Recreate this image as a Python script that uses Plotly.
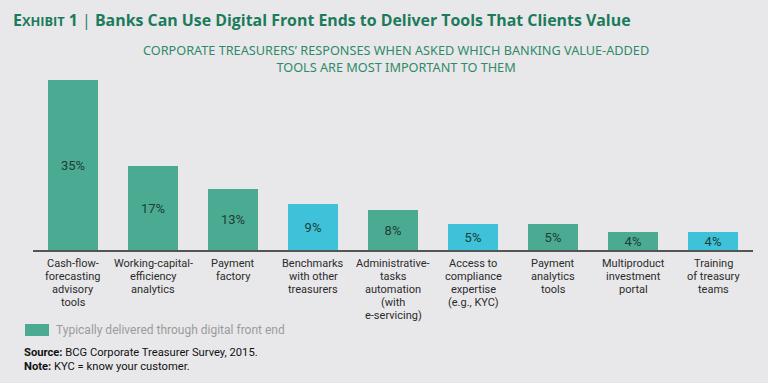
import plotly.graph_objects as go

categories = [
    "Cash-flow-<br>forecasting<br>advisory<br>tools",
    "Working-capital-<br>efficiency<br>analytics",
    "Payment<br>factory",
    "Benchmarks<br>with other<br>treasurers",
    "Administrative-<br>tasks<br>automation<br>(with<br>e-servicing)",
    "Access to<br>compliance<br>expertise<br>(e.g., KYC)",
    "Payment<br>analytics<br>tools",
    "Multiproduct<br>investment<br>portal",
    "Training<br>of treasury<br>teams",
]
values = [35, 17.3, 12.6, 9.4, 8.2, 5.3, 5.3, 3.8, 3.8]
value_labels = ["35%", "17%", "13%", "9%", "8%", "5%", "5%", "4%", "4%"]
digital_front_end = [True, True, True, False, True, False, True, True, False]

GREEN = "#4bab92"
CYAN = "#3dc2d9"
BG = "#e8e8ea"
TITLE_GREEN = "#1b7b5b"
FONT = "Roboto, 'Noto Sans', sans-serif"

colors = [GREEN if d else CYAN for d in digital_front_end]
xs = list(range(len(categories)))

fig = go.Figure()
fig.add_trace(go.Bar(
    x=xs, y=values, width=0.625,
    marker=dict(color=colors, line=dict(width=0)),
    text=value_labels, textposition="inside", insidetextanchor="middle",
    textangle=0, constraintext="none",
    textfont=dict(family=FONT, size=13, color="#1f3d36"),
    hoverinfo="skip", showlegend=False,
))

L, R, T, B = 33, 15, 80, 133
W, H = 768, 383
PW, PH = W - L - R, H - T - B


def px_x(p):
    return (p - L) / PW


def px_y(p):
    return (H - B - p) / PH


annotations = []
# category labels, one annotation per line for tight line spacing
for i, cat in enumerate(categories):
    for j, line in enumerate(cat.split("<br>")):
        annotations.append(dict(
            x=i, y=0, xref="x", yref="paper", text=line, showarrow=False,
            xanchor="center", yanchor="middle", yshift=-(13 + 13 * j),
            font=dict(family=FONT, size=11, color="#2b2b2b"),
        ))

# subtitle
annotations.append(dict(
    x=px_x(396), y=px_y(58), xref="paper", yref="paper",
    text="CORPORATE TREASURERS’ RESPONSES WHEN ASKED WHICH BANKING VALUE-ADDED<br>"
         "TOOLS ARE MOST IMPORTANT TO THEM",
    showarrow=False, xanchor="center", yanchor="middle",
    font=dict(family="'Noto Sans', Roboto, sans-serif", size=12.7, color="#2e8a69"),
))

# legend text
annotations.append(dict(
    x=px_x(54), y=px_y(330), xref="paper", yref="paper",
    text="Typically delivered through digital front end",
    showarrow=False, xanchor="left", yanchor="middle",
    font=dict(family=FONT, size=12, color="#9b9b9b"),
))
# source / note
annotations.append(dict(
    x=px_x(22), y=px_y(352), xref="paper", yref="paper",
    text="<b>Source:</b> BCG Corporate Treasurer Survey, 2015.",
    showarrow=False, xanchor="left", yanchor="middle",
    font=dict(family=FONT, size=11.2, color="#111111"),
))
annotations.append(dict(
    x=px_x(22), y=px_y(366), xref="paper", yref="paper",
    text="<b>Note:</b> KYC = know your customer.",
    showarrow=False, xanchor="left", yanchor="middle",
    font=dict(family=FONT, size=11.2, color="#111111"),
))

shapes = [dict(type="rect", xref="paper", yref="paper",
               x0=px_x(25), x1=px_x(49), y0=px_y(336), y1=px_y(324),
               fillcolor=GREEN, line=dict(width=0))]

fig.update_layout(
    width=W, height=H,
    margin=dict(l=L, r=R, t=T, b=B),
    paper_bgcolor=BG, plot_bgcolor=BG,
    title=dict(
        text=("<b>E<span style='font-size:12.8px'>XHIBIT</span> 1</b>"
              "<span style='font-weight:normal'> | </span>"
              "<b>Banks Can Use Digital Front Ends to Deliver Tools That Clients Value</b>"),
        x=13 / W, xanchor="left", xref="container",
        y=1 - 20 / H, yanchor="middle", yref="container",
        font=dict(family="'Open Sans', 'Noto Sans', sans-serif", size=15.9, color=TITLE_GREEN),
    ),
    xaxis=dict(range=[-0.5, 8.5], showticklabels=False, showgrid=False, zeroline=False,
               showline=True, linecolor="#555555", linewidth=1.5, ticks="", fixedrange=True),
    yaxis=dict(range=[0, 35], visible=False, showgrid=False, zeroline=False, fixedrange=True),
    annotations=annotations,
    shapes=shapes,
    bargap=0,
    showlegend=False,
)

fig.write_html("out.html", config={"displayModeBar": False},
               post_script="document.body.style.margin='0';")
